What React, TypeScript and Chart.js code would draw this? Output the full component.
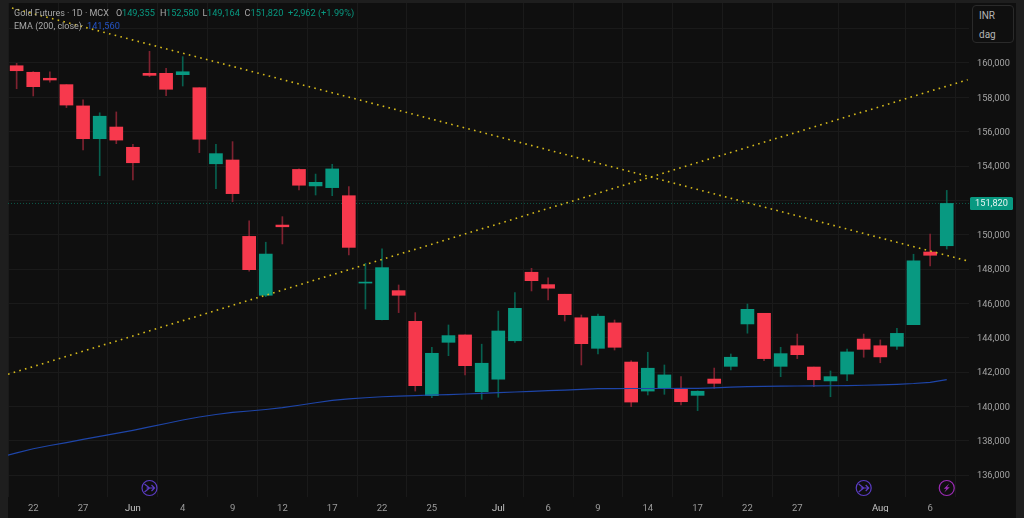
import React, { useEffect, useRef } from "react";
import { Chart, registerables } from "chart.js";

Chart.register(...registerables);

const opens = [159840,159460,159110,158740,157500,155590,156270,155090,159400,159400,159320,158560,154130,154350,149900,146470,150560,153800,152840,152740,152270,147180,145050,146740,144950,140620,143730,144160,140850,141580,143820,147810,147090,146530,145160,143380,144860,142580,140890,141070,140990,140640,141590,142330,144800,145420,142330,143530,142290,141480,141880,143920,143530,143500,144760,148990,149355];
const highs = [159980,159500,159480,158740,157850,157100,157150,155260,160680,159690,160370,158560,155260,155420,150810,149560,151050,153830,153530,154100,152800,148330,149180,147070,145460,143440,144740,144160,143620,145550,146620,148040,147490,146530,145320,145380,145030,142660,143150,142410,141730,140900,142230,143050,145960,145420,143440,144210,142290,142060,143340,144210,143870,144550,148860,150040,152580];
const lows = [158500,158080,158890,157400,154930,153440,155300,153190,159200,158100,158660,154780,152680,151920,147880,146390,149460,152600,152310,152270,148820,145670,145040,145460,140890,140500,142950,141830,140410,140530,143730,146720,146200,144970,142410,143050,143280,139980,140660,140700,140080,139750,141050,142120,144260,142660,141730,142780,141150,140560,141490,142860,142540,143320,144760,148180,149164];
const closes = [159550,158620,159010,157550,155590,156900,155510,154190,159280,158470,159490,155560,154720,152390,147960,148870,150460,152880,153050,153830,149260,147190,148080,146470,141200,143090,144120,142370,142510,144390,145710,147320,146880,145340,143650,145250,143440,140250,142220,141830,140270,140880,141340,142860,145650,142780,143070,143010,141550,141730,143170,143320,142880,144250,148470,148800,151820];

const emaIndex = [-1,0,1,2,3,4,5,6,7,8,9,10,11,12,13,14,15,16,17,18,19,20,21,22,23,24,25,26,27,28,29,30,31,32,33,34,35,36,37,38,39,40,41,42,43,44,45,46,47,48,49,50,51,52,53,54,55,56];
const emaValues = [137030,137290,137530,137720,137890,138080,138255,138430,138605,138800,139000,139205,139380,139525,139650,139730,139815,139920,140065,140210,140350,140430,140500,140560,140600,140630,140660,140685,140720,140760,140795,140835,140870,140910,140950,140985,141030,141035,141040,141040,141040,141045,141050,141080,141115,141145,141160,141175,141185,141190,141200,141205,141230,141255,141285,141330,141400,141560];

const trendDownX = [-0.28, 57.2];
const trendDownY = [163204, 148484];
const trendUpX = [-0.52, 57.26];
const trendUpY = [141867, 159027];

const xTickIndex = [1,4,7,10,13,16,19,22,25,29,32,35,38,41,44,47,52,55];
const xTickLabels = ["22","27","Jun","4","9","12","17","22","25","Jul","6","9","14","17","22","27","Aug","6"];
const monthLabels = ["Jun","Jul","Aug"];
const yTicks = [136000,138000,140000,142000,144000,146000,148000,150000,152000,154000,156000,158000,160000,162000];

const lastPrice = 151820;
const lastPriceLabel = "151,820";
const splitEventIndex = [8, 51];
const earningsEventIndex = [56];

const UP = "#089981";
const DOWN = "#F7394D";
const UP_WICK = "#07604F";
const DOWN_WICK = "#7E2230";
const GRID = "#1A1A1A";
const PANEL = "#0F0F0F";
const FRAME = "#1E1E1E";
const TREND = "#D8BC1C";

const FONT = "Roboto, 'Noto Sans', sans-serif";

const overlayPlugin = {
  id: "overlay",
  beforeDraw(chart: any) {
    const { ctx, chartArea: a } = chart;
    ctx.save();
    ctx.fillStyle = PANEL;
    ctx.fillRect(a.left, a.top, 1016 - a.left, 518 - a.top);
    ctx.restore();
  },
  afterDraw(chart: any) {
    const { ctx, scales } = chart;
    const x = scales.x;
    const y = scales.y;
    ctx.save();
    // last price tag
    const py = y.getPixelForValue(lastPrice);
    ctx.fillStyle = UP;
    ctx.beginPath();
    ctx.roundRect(970, py - 6.5, 43, 13, 1.5);
    ctx.fill();
    ctx.fillStyle = "#E8F5F2";
    ctx.font = `9.2px ${FONT}`;
    ctx.textAlign = "center";
    ctx.textBaseline = "middle";
    ctx.fillText(lastPriceLabel, 991.5, py + 0.5);

    // event badges
    const by = 488;
    const split = "#5B3CC4";
    ctx.lineWidth = 1.2;
    splitEventIndex.forEach((i) => {
      const cx = x.getPixelForValue(i);
      ctx.strokeStyle = split;
      ctx.beginPath();
      ctx.arc(cx, by, 7.5, 0, Math.PI * 2);
      ctx.stroke();
      ctx.beginPath();
      ctx.moveTo(cx - 5, by - 4);
      ctx.lineTo(cx, by);
      ctx.lineTo(cx - 5, by + 4);
      ctx.moveTo(cx - 3, by);
      ctx.lineTo(cx + 5, by);
      ctx.moveTo(cx + 2, by - 3);
      ctx.lineTo(cx + 5, by);
      ctx.lineTo(cx + 2, by + 3);
      ctx.stroke();
    });
    const earn = "#9C2BB5";
    earningsEventIndex.forEach((i) => {
      const cx = x.getPixelForValue(i);
      ctx.strokeStyle = earn;
      ctx.beginPath();
      ctx.arc(cx, by, 7.5, 0, Math.PI * 2);
      ctx.stroke();
      ctx.fillStyle = earn;
      ctx.beginPath();
      ctx.moveTo(cx + 2.5, by - 4.5);
      ctx.lineTo(cx - 3, by + 0.8);
      ctx.lineTo(cx - 0.3, by + 0.8);
      ctx.lineTo(cx - 2.5, by + 4.5);
      ctx.lineTo(cx + 3, by - 0.8);
      ctx.lineTo(cx + 0.3, by - 0.8);
      ctx.closePath();
      ctx.fill();
    });
    ctx.restore();
  },
};

const legendText: React.CSSProperties = {
  position: "absolute",
  fontFamily: FONT,
  fontSize: 9,
  lineHeight: "12px",
  whiteSpace: "pre",
  color: "#A8A8A8",
};

const Leg = ({ left, top, color, size, children }: any) => (
  <span style={{ ...legendText, left, top, color: color ?? legendText.color, fontSize: size ?? 9 }}>{children}</span>
);

export default function App() {
  const ref = useRef<HTMLCanvasElement | null>(null);

  useEffect(() => {
    document.body.style.margin = "0";
    document.body.style.background = FRAME;
    const idx = opens.map((_, i) => i);
    const up = (i: number) => closes[i] >= opens[i];
    const chart = new Chart(ref.current as HTMLCanvasElement, {
      type: "bar",
      data: {
        datasets: [
          {
            type: "line",
            label: "Last price",
            data: [{ x: -0.52, y: lastPrice }, { x: 57.34, y: lastPrice }],
            borderColor: "#0C5A4A",
            borderWidth: 1,
            borderDash: [1, 2],
            pointRadius: 0,
            order: 5,
          },
          {
            type: "bar",
            label: "Wicks",
            data: idx.map((i) => ({ x: i, y: [lows[i], highs[i]] })),
            backgroundColor: idx.map((i) => (up(i) ? UP_WICK : DOWN_WICK)),
            barThickness: 1,
            order: 4,
          },
          {
            type: "bar",
            label: "Bodies",
            data: idx.map((i) => ({ x: i, y: [opens[i], closes[i]] })),
            backgroundColor: idx.map((i) => (up(i) ? UP : DOWN)),
            barThickness: 13,
            minBarLength: 1,
            order: 3,
          },
          {
            type: "line",
            label: "EMA (200, close)",
            data: emaIndex.map((v, i) => ({ x: v, y: emaValues[i] })),
            borderColor: "#1E45A8",
            borderWidth: 1.2,
            pointRadius: 0,
            order: 2,
          },
          {
            type: "line",
            label: "Falling trend",
            data: trendDownX.map((v, i) => ({ x: v, y: trendDownY[i] })),
            borderColor: TREND,
            borderWidth: 1.6,
            borderDash: [1.6, 4.3],
            pointRadius: 0,
            order: 1,
          },
          {
            type: "line",
            label: "Rising trend",
            data: trendUpX.map((v, i) => ({ x: v, y: trendUpY[i] })),
            borderColor: TREND,
            borderWidth: 1.6,
            borderDash: [1.6, 4.3],
            pointRadius: 0,
            order: 1,
          },
        ],
      } as any,
      options: {
        animation: false,
        responsive: false,
        devicePixelRatio: 1,
        layout: { padding: { left: 8, top: 3, right: 8, bottom: 6 } },
        plugins: { legend: { display: false }, tooltip: { enabled: false } },
        datasets: { bar: { grouped: false } },
        scales: {
          x: {
            type: "linear",
            offset: false,
            min: -0.52,
            max: 57.34,
            afterBuildTicks: (s: any) => {
              s.ticks = xTickIndex.map((v) => ({ value: v }));
            },
            afterFit: (s: any) => {
              s.height = 15;
              s.paddingLeft = 0;
              s.paddingRight = 0;
            },
            grid: { color: GRID, drawTicks: false, lineWidth: 1 },
            border: { display: false },
            ticks: {
              autoSkip: false,
              maxRotation: 0,
              padding: 6,
              callback: (v: any) => xTickLabels[xTickIndex.indexOf(Number(v))] ?? "",
              color: (c: any) =>
                monthLabels.includes(xTickLabels[xTickIndex.indexOf(c.tick.value)]) ? "#C4C4C4" : "#9C9C9C",
              font: { family: FONT, size: 9.5 },
            },
          },
          y: {
            type: "linear",
            position: "right",
            min: 134719,
            max: 163495,
            afterBuildTicks: (s: any) => {
              s.ticks = yTicks.map((v) => ({ value: v }));
            },
            afterFit: (s: any) => {
              s.width = 47;
              s.paddingTop = 0;
              s.paddingBottom = 0;
            },
            grid: { color: GRID, drawTicks: false, lineWidth: 1 },
            border: { display: false },
            ticks: {
              autoSkip: false,
              padding: 8,
              labelOffset: 1,
              callback: (v: any) => (Number(v) > 160000 ? "" : Number(v).toLocaleString("en-US")),
              color: "#A4A4A4",
              font: { family: FONT, size: 9.2 },
            },
          },
        },
      } as any,
      plugins: [overlayPlugin],
    });
    return () => chart.destroy();
  }, []);

  return (
    <div style={{ position: "relative", width: 1024, height: 518, overflow: "hidden" }}>
      <canvas ref={ref} width={1024} height={518} style={{ display: "block", width: 1024, height: 518 }} />
      <Leg left={14} top={7}>Gold Futures · 1D · MCX</Leg>
      <Leg left={116} top={7}>O</Leg>
      <Leg left={122} top={7} size={9.2} color={UP}>149,355</Leg>
      <Leg left={160} top={7}>H</Leg>
      <Leg left={166} top={7} size={9.2} color={UP}>152,580</Leg>
      <Leg left={202.5} top={7}>L</Leg>
      <Leg left={207} top={7} size={9.2} color={UP}>149,164</Leg>
      <Leg left={244.5} top={7}>C</Leg>
      <Leg left={250.5} top={7} size={9.2} color={UP}>151,820</Leg>
      <Leg left={288} top={7} size={9.2} color={UP}>+2,962 (+1.99%)</Leg>
      <Leg left={14} top={20}>EMA (200, close)</Leg>
      <Leg left={81} top={20}>·</Leg>
      <Leg left={87} top={20} size={9.2} color="#2453C4">141,560</Leg>
      <div
        style={{
          position: "absolute",
          left: 972,
          top: 5,
          width: 42,
          height: 38,
          boxSizing: "border-box",
          border: "1px solid #2A2A2A",
          borderRadius: 4,
          background: PANEL,
          color: "#B4B4B4",
          fontFamily: FONT,
          fontSize: 10,
          lineHeight: "19px",
          paddingLeft: 6,
        }}
      >
        <div>INR</div>
        <div>dag</div>
      </div>
    </div>
  );
}
